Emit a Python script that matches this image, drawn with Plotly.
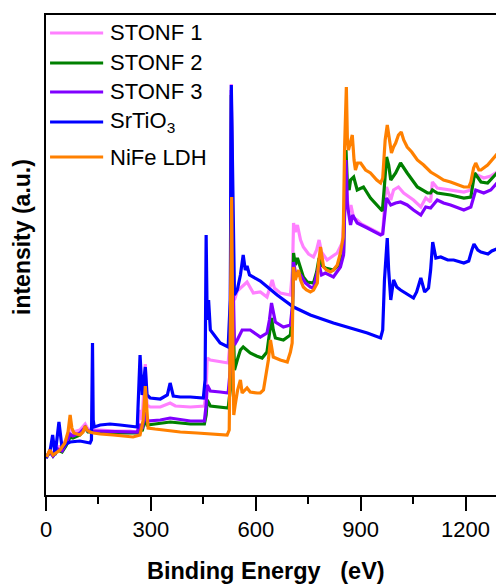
import plotly.graph_objects as go

# XPS survey spectra: binding energy (eV) and intensity (a.u.)
stonf1_be = [0, 11, 20, 34, 46, 57, 69, 77, 97, 112, 120, 135, 155, 198, 241, 261, 269, 275, 284, 289,
             298, 327, 355, 370, 413, 453, 458, 461, 470, 493, 521, 527, 530, 534, 539, 547, 561, 575,
             593, 613, 632, 639, 647, 653, 670, 699, 705, 708, 713, 719, 728, 736, 751, 765, 774, 781,
             788, 804, 833, 847, 854, 858, 862, 867, 872, 880, 890, 902, 919, 937, 957, 963, 970, 974,
             986, 994, 1008, 1023, 1051, 1072, 1086, 1100, 1105, 1119, 1157, 1195, 1215, 1223, 1234,
             1252, 1272, 1295]
stonf1_int = [37, 45, 41, 48, 49, 55, 67, 63, 65, 71, 66, 65, 65, 64, 64, 63, 85, 75, 131, 90,
              88, 88, 92, 89, 88, 89, 105, 137, 135, 134, 132, 155, 411, 245, 195, 204, 209, 213,
              202, 203, 198, 205, 215, 207, 202, 200, 225, 272, 263, 270, 255, 248, 241, 238, 245, 255,
              243, 235, 242, 252, 285, 325, 295, 283, 290, 277, 275, 271, 268, 264, 261, 262, 300, 308,
              295, 305, 308, 302, 295, 288, 297, 293, 313, 307, 305, 303, 305, 318, 320,
              317, 319, 324]

stonf2_be = [0, 11, 20, 34, 46, 57, 69, 77, 97, 112, 120, 135, 183, 261, 269, 275, 284, 289, 312, 355,
             413, 453, 458, 461, 470, 498, 521, 527, 530, 534, 539, 547, 556, 564, 584, 602, 618, 632,
             639, 645, 650, 656, 679, 699, 705, 708, 713, 719, 728, 736, 747, 765, 774, 781, 788, 799,
             822, 837, 851, 855, 858, 862, 867, 871, 880, 890, 908, 928, 946, 962, 967, 974, 980, 986,
             1000, 1014, 1033, 1062, 1091, 1100, 1105, 1119, 1157, 1195, 1215, 1226, 1244, 1263, 1295]
stonf2_int = [37, 44, 39, 45, 43, 49, 58, 57, 60, 67, 63, 63, 62, 62, 67, 64, 77, 70, 71, 73,
              71, 71, 80, 95, 89, 88, 87, 105, 400, 195, 125, 135, 145, 148, 142, 139, 137, 143,
              160, 177, 165, 157, 155, 160, 185, 242, 230, 237, 227, 218, 213, 212, 223, 237, 230, 227,
              225, 230, 242, 295, 345, 310, 305, 315, 318, 305, 308, 297, 290, 284, 305, 338, 330, 315,
              322, 332, 322, 308, 302, 302, 305, 302, 300, 297, 298, 322, 313, 312, 324]

stonf3_be = [0, 11, 20, 34, 46, 57, 69, 77, 97, 112, 120, 135, 261, 269, 275, 284, 289, 327, 355, 413,
             453, 458, 461, 470, 498, 521, 527, 530, 534, 539, 547, 561, 584, 613, 632, 639, 645, 650,
             656, 679, 699, 705, 708, 713, 728, 742, 756, 765, 781, 788, 799, 822, 842, 851, 858, 862,
             871, 877, 890, 919, 937, 957, 963, 970, 974, 986, 1000, 1014, 1033, 1051, 1072, 1086,
             1100, 1119, 1137, 1157, 1195, 1215, 1229, 1252, 1272, 1295]
stonf3_int = [37, 43, 39, 46, 44, 51, 61, 59, 62, 68, 64, 64, 63, 71, 66, 83, 74, 75, 77, 74,
              74, 90, 110, 104, 103, 102, 125, 405, 235, 150, 155, 165, 165, 158, 162, 175, 192, 183,
              173, 168, 170, 190, 233, 223, 220, 212, 208, 207, 230, 220, 222, 218, 228, 240, 335, 290,
              270, 280, 272, 267, 264, 260, 261, 285, 297, 290, 292, 293, 290, 285, 280, 288,
              287, 295, 292, 290, 285, 288, 305, 302, 305, 314]

srtio3_be = [0, 11, 19, 26, 37, 46, 57, 69, 97, 126, 130, 133, 135, 138, 155, 183, 212, 241, 261, 269,
             275, 284, 289, 298, 327, 347, 355, 364, 384, 413, 450, 455, 458, 461, 465, 470, 484, 498,
             521, 527, 530, 534, 539, 547, 556, 564, 570, 575, 582, 613, 661, 708, 756, 822, 871, 919,
             957, 963, 968, 976, 980, 986, 994, 1003, 1014, 1034, 1051, 1060, 1072, 1083, 1094, 1100,
             1106, 1115, 1129, 1149, 1166, 1195, 1209, 1218, 1224, 1235, 1244, 1264, 1275, 1295]
srtio3_int = [37, 43, 60, 40, 73, 47, 51, 53, 54, 52, 55, 152, 75, 68, 70, 71, 70, 69, 68, 140,
              100, 128, 100, 97, 96, 100, 112, 99, 98, 98, 97, 115, 260, 175, 195, 165, 158, 152,
              148, 195, 410, 295, 200, 205, 220, 240, 225, 229, 220, 214, 200, 188, 180, 172, 167, 162,
              157, 165, 215, 257, 225, 195, 215, 208, 205, 201, 197, 203, 217, 203, 207, 225,
              253, 237, 238, 235, 235, 232, 234, 245, 251, 245, 243, 241, 244, 247]

nife_be = [2, 11, 20, 32, 40, 54, 63, 69, 74, 80, 97, 106, 112, 117, 126, 135, 155, 192, 226, 249,
           269, 278, 284, 289, 292, 312, 335, 384, 432, 470, 498, 518, 524, 529, 531, 534, 537, 541,
           548, 556, 561, 575, 584, 604, 613, 622, 627, 636, 642, 647, 650, 670, 690, 699, 704, 706,
           708, 713, 722, 728, 736, 745, 756, 765, 776, 779, 785, 794, 802, 814, 822, 833, 842, 850,
           854, 859, 862, 865, 871, 876, 881, 885, 891, 900, 914, 928, 946, 957, 963, 970, 976, 983,
           988, 994, 1000, 1008, 1016, 1023, 1033, 1046, 1062, 1080, 1100, 1119, 1137, 1157, 1177,
           1195, 1209, 1215, 1223, 1229, 1238, 1244, 1263, 1275, 1295]
nife_int = [38, 45, 40, 43, 45, 52, 63, 80, 67, 62, 60, 63, 69, 65, 63, 62, 61, 60, 59, 58,
            60, 75, 109, 75, 67, 66, 65, 63, 62, 61, 60, 60, 65, 195, 298, 165, 80, 90,
            105, 115, 102, 107, 103, 102, 102, 105, 117, 135, 155, 143, 138, 135, 133, 143, 152, 195,
            228, 215, 225, 215, 208, 205, 203, 205, 212, 230, 248, 228, 225, 223, 225, 230, 242, 258,
            348, 408, 355, 345, 355, 360, 335, 325, 332, 332, 325, 322, 315, 312, 317, 355, 370, 350,
            342, 348, 352, 360, 363, 355, 348, 343, 335, 330, 323, 319, 315, 313, 310,
            308, 308, 313, 327, 332, 325, 325, 330, 335, 343]

names = ["STONF 1", "STONF 2", "STONF 3", "SrTiO<sub>3</sub>", "NiFe LDH"]
colors = ["#FF80FF", "#008000", "#8000FF", "#0000FF", "#FF8000"]
series = [(stonf1_be, stonf1_int), (stonf2_be, stonf2_int), (stonf3_be, stonf3_int),
          (srtio3_be, srtio3_int), (nife_be, nife_int)]

FONT = "Liberation Sans, Arial, sans-serif"

fig = go.Figure()
for (be, inten), name, col in zip(series, names, colors):
    fig.add_trace(go.Scatter(x=be, y=inten, mode="lines", name=name,
                             line=dict(color=col, width=3.2), showlegend=False))

# legend drawn inside the top-left corner of the plot area
legend_y = [0.9625, 0.900, 0.8396, 0.777, 0.704]
for name, col, yy in zip(names, colors, legend_y):
    fig.add_shape(type="line", xref="paper", yref="paper", x0=0.009, x1=0.127, y0=yy, y1=yy,
                  line=dict(color=col, width=3))
    fig.add_annotation(xref="paper", yref="paper", x=0.138, y=yy, text=name, showarrow=False,
                       xanchor="left", yanchor="middle", font=dict(family=FONT, size=22, color="black"))

# axis titles
fig.add_annotation(xref="paper", yref="paper", x=0.489, y=-0.158,
                   text="<b>Binding Energy\u00a0\u00a0\u00a0(eV)</b>", showarrow=False,
                   xanchor="center", yanchor="middle", font=dict(family=FONT, size=23.5, color="black"))
fig.add_annotation(xref="paper", yref="paper", x=-0.0533, y=0.5375,
                   text="<b>intensity (a.u.)</b>", showarrow=False, textangle=-90,
                   xanchor="center", yanchor="middle", font=dict(family=FONT, size=23, color="black"))

fig.update_layout(
    width=496, height=586,
    margin=dict(l=46, r=0, t=15, b=91),
    plot_bgcolor="white", paper_bgcolor="white",
    font=dict(family=FONT, size=22, color="black"),
)
fig.update_xaxes(range=[0, 1287], tickmode="linear", tick0=0, dtick=300,
                 ticks="outside", ticklen=14, tickwidth=2, tickcolor="black",
                 minor=dict(dtick=150, ticks="outside", ticklen=7, tickwidth=2, tickcolor="black"),
                 showline=True, linecolor="black", linewidth=2, mirror=True,
                 showgrid=False, zeroline=False, tickfont=dict(family=FONT, size=22))
fig.update_yaxes(range=[0, 480], showticklabels=False, ticks="",
                 showline=True, linecolor="black", linewidth=2,
                 showgrid=False, zeroline=False)

fig.write_html("out.html")
